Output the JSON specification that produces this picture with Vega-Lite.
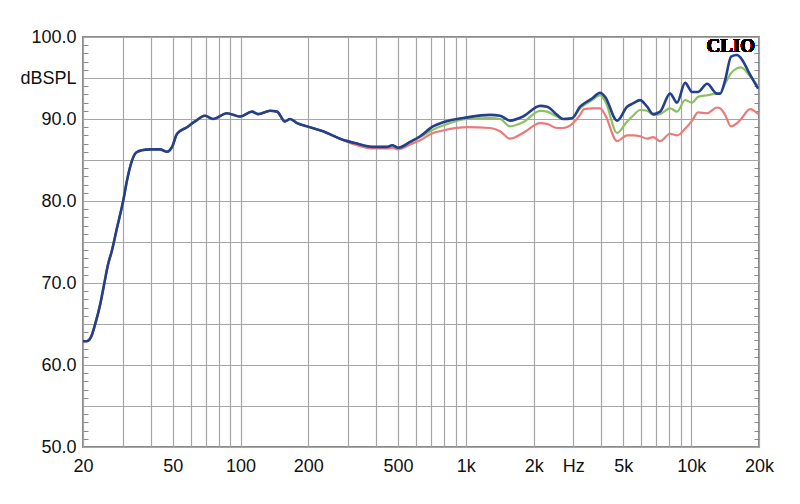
{
  "$schema": "https://vega.github.io/schema/vega-lite/v6.json",
  "width": 676,
  "height": 410,
  "autosize": {"type": "none"},
  "padding": {"left": 83, "top": 37, "right": 41, "bottom": 57},
  "background": "white",
  "config": {
    "view": {"stroke": "#8a8a8a", "strokeWidth": 2},
    "axis": {"labelFont": "Liberation Sans", "labelFontSize": 18, "labelColor": "#111", "gridColor": "#a6a6a6", "gridWidth": 1.2, "gridOpacity": 1}
  },
  "data": {"values": [
    {"f":20,"b":62.9,"g":62.9,"r":62.9},
    {"f":20.8,"b":62.9,"g":62.9,"r":62.9},
    {"f":21.7,"b":63.4,"g":63.4,"r":63.4},
    {"f":22.6,"b":64.9,"g":64.9,"r":64.9},
    {"f":23.8,"b":67.3,"g":67.3,"r":67.3},
    {"f":24.8,"b":69.8,"g":69.8,"r":69.8},
    {"f":25.8,"b":72.2,"g":72.2,"r":72.2},
    {"f":26.9,"b":74.0,"g":74.0,"r":74.0},
    {"f":28.3,"b":76.7,"g":76.7,"r":76.7},
    {"f":30.1,"b":79.9,"g":79.9,"r":79.9},
    {"f":31.4,"b":82.6,"g":82.6,"r":82.6},
    {"f":32.7,"b":84.6,"g":84.6,"r":84.6},
    {"f":34.4,"b":85.9,"g":85.9,"r":85.9},
    {"f":36.5,"b":86.2,"g":86.2,"r":86.2},
    {"f":39.7,"b":86.3,"g":86.3,"r":86.3},
    {"f":43.9,"b":86.3,"g":86.3,"r":86.3},
    {"f":47.2,"b":86.0,"g":86.0,"r":86.0},
    {"f":49.7,"b":86.6,"g":86.6,"r":86.6},
    {"f":52.3,"b":88.2,"g":88.2,"r":88.2},
    {"f":57.9,"b":89.0,"g":89.0,"r":89.0},
    {"f":62.8,"b":89.7,"g":89.7,"r":89.7},
    {"f":69.6,"b":90.4,"g":90.4,"r":90.4},
    {"f":75.5,"b":90.0,"g":90.0,"r":90.0},
    {"f":87.1,"b":90.7,"g":90.7,"r":90.7},
    {"f":99.5,"b":90.3,"g":90.3,"r":90.3},
    {"f":112.5,"b":90.9,"g":90.9,"r":90.9},
    {"f":119.6,"b":90.6,"g":90.6,"r":90.6},
    {"f":135.2,"b":91.0,"g":91.0,"r":91.0},
    {"f":145.2,"b":90.9,"g":90.9,"r":90.9},
    {"f":157.6,"b":89.7,"g":89.7,"r":89.7},
    {"f":165.9,"b":90.0,"g":90.0,"r":90.0},
    {"f":178.2,"b":89.5,"g":89.5,"r":89.5},
    {"f":197.3,"b":89.1,"g":89.1,"r":89.1},
    {"f":232.4,"b":88.5,"g":88.5,"r":88.5},
    {"f":276.4,"b":87.6,"g":87.6,"r":87.6},
    {"f":329,"b":87.0,"g":87.0,"r":86.8},
    {"f":387.6,"b":86.6,"g":86.6,"r":86.4},
    {"f":447,"b":86.6,"g":86.6,"r":86.4},
    {"f":471,"b":86.8,"g":86.8,"r":86.5},
    {"f":500,"b":86.5,"g":86.5,"r":86.3},
    {"f":566,"b":87.2,"g":87.2,"r":86.9},
    {"f":627,"b":87.9,"g":87.8,"r":87.4},
    {"f":715,"b":89.1,"g":88.7,"r":88.3},
    {"f":792,"b":89.6,"g":89.2,"r":88.6},
    {"f":1013,"b":90.2,"g":90.0,"r":89.0},
    {"f":1281,"b":90.5,"g":90.1,"r":88.9},
    {"f":1419,"b":90.4,"g":90.0,"r":88.5},
    {"f":1572,"b":89.8,"g":89.1,"r":87.6},
    {"f":1795,"b":90.3,"g":89.6,"r":88.3},
    {"f":2136,"b":91.6,"g":91.0,"r":89.5},
    {"f":2294,"b":91.5,"g":90.9,"r":89.4},
    {"f":2540,"b":90.5,"g":90.3,"r":88.9},
    {"f":2702,"b":90.0,"g":90.0,"r":88.9},
    {"f":2962,"b":90.1,"g":90.1,"r":89.4},
    {"f":3214,"b":91.5,"g":91.3,"r":90.5},
    {"f":3348,"b":91.9,"g":91.7,"r":91.2},
    {"f":3632,"b":92.5,"g":92.3,"r":91.3},
    {"f":3942,"b":93.2,"g":92.9,"r":91.3},
    {"f":4150,"b":92.7,"g":92.2,"r":90.5},
    {"f":4692,"b":89.8,"g":88.3,"r":87.3},
    {"f":5196,"b":91.5,"g":89.7,"r":88.0},
    {"f":5524,"b":91.9,"g":90.4,"r":88.0},
    {"f":5934,"b":92.3,"g":91.1,"r":87.9},
    {"f":6374,"b":91.5,"g":91.0,"r":87.6},
    {"f":6776,"b":90.6,"g":90.5,"r":87.8},
    {"f":7280,"b":90.9,"g":90.6,"r":87.3},
    {"f":8062,"b":93.1,"g":91.3,"r":88.2},
    {"f":8658,"b":92.0,"g":90.9,"r":88.0},
    {"f":9398,"b":94.4,"g":92.3,"r":88.8},
    {"f":10098,"b":93.3,"g":92.0,"r":89.8},
    {"f":10734,"b":93.3,"g":92.7,"r":90.8},
    {"f":11768,"b":94.3,"g":92.9,"r":90.7},
    {"f":13032,"b":93.1,"g":93.1,"r":91.4},
    {"f":13438,"b":93.1,"g":93.1,"r":91.3},
    {"f":14142,"b":94.7,"g":94.3,"r":90.5},
    {"f":15036,"b":97.6,"g":95.6,"r":89.1},
    {"f":15984,"b":97.8,"g":96.2,"r":89.5},
    {"f":16650,"b":97.4,"g":96.3,"r":90.0},
    {"f":18258,"b":95.4,"g":95.2,"r":91.2},
    {"f":19816,"b":93.7,"g":94.0,"r":90.6}
  ]},
  "resolve": {"axis": {"x": "independent", "y": "independent"}},
  "layer": [
    {
      "mark": {"type": "line", "interpolate": "monotone", "stroke": "#ea7b7b", "strokeWidth": 2.2, "clip": true},
      "encoding": {
        "x": {"field": "f", "type": "quantitative", "scale": {"type": "log", "domain": [20, 20000], "nice": false}, "axis": null},
        "y": {"field": "r", "type": "quantitative", "scale": {"domain": [50, 100], "nice": false, "zero": false},
          "axis": {"orient": "left", "values": [51,52,53,54,56,57,58,59,61,62,63,64,66,67,68,69,71,72,73,74,76,77,78,79,81,82,83,84,86,87,88,89,91,92,93,94,96,97,98,99], "labels": false, "grid": false, "domain": false, "ticks": true, "tickSize": -5, "tickColor": "#8a8a8a", "tickWidth": 1, "title": null}}
      }
    },
    {
      "mark": {"type": "line", "interpolate": "monotone", "stroke": "#8cc162", "strokeWidth": 2.2, "clip": true},
      "encoding": {
        "x": {"field": "f", "type": "quantitative", "scale": {"type": "log", "domain": [20, 20000], "nice": false}, "axis": null},
        "y": {"field": "g", "type": "quantitative", "scale": {"domain": [50, 100], "nice": false, "zero": false},
          "axis": {"orient": "right", "values": [51,52,53,54,56,57,58,59,61,62,63,64,66,67,68,69,71,72,73,74,76,77,78,79,81,82,83,84,86,87,88,89,91,92,93,94,96,97,98,99], "labels": false, "grid": false, "domain": false, "ticks": true, "tickSize": -5, "tickColor": "#8a8a8a", "tickWidth": 1, "title": null}}
      }
    },
    {
      "mark": {"type": "line", "interpolate": "monotone", "stroke": "#243f8c", "strokeWidth": 2.6, "clip": true},
      "encoding": {
        "x": {"field": "f", "type": "quantitative", "scale": {"type": "log", "domain": [20, 20000], "nice": false},
          "axis": {"orient": "bottom", "values": [20,30,40,50,60,70,80,90,100,200,300,400,500,600,700,800,900,1000,2000,3000,4000,5000,6000,7000,8000,9000,10000,20000],
            "labelExpr": "indexof([20,50,100,200,500,1000,2000,3000,5000,10000,20000], datum.value) < 0 ? '' : (datum.value == 3000 ? 'Hz' : (datum.value >= 1000 ? (datum.value/1000) + 'k' : '' + datum.value))",
            "labelOverlap": false, "labelFlush": false, "labelBound": false, "labelPadding": 10, "ticks": false, "domain": false, "grid": true, "title": null}},
        "y": {"field": "b", "type": "quantitative", "scale": {"domain": [50, 100], "nice": false, "zero": false},
          "axis": {"orient": "left", "values": [50,55,60,65,70,75,80,85,90,95,100],
            "labelExpr": "datum.value == 95 ? 'dBSPL' : (datum.value % 10 == 0 ? format(datum.value, '.1f') : '')",
            "labelOverlap": false, "labelFlush": false, "labelBound": false, "labelPadding": 7, "ticks": false, "domain": false, "grid": true, "title": null}}
      }
    },
    {
      "mark": {"type": "text", "text": "CLIO", "font": "Liberation Serif", "fontWeight": "bold", "fontSize": 19, "color": "#000", "align": "center", "baseline": "middle"},
      "encoding": {
        "x": {"datum": 15000, "type": "quantitative", "scale": {"type": "log", "domain": [20, 20000], "nice": false}, "axis": null},
        "y": {"datum": 98.9, "type": "quantitative", "scale": {"domain": [50, 100], "nice": false, "zero": false}, "axis": null}
      }
    }
  ]
}
